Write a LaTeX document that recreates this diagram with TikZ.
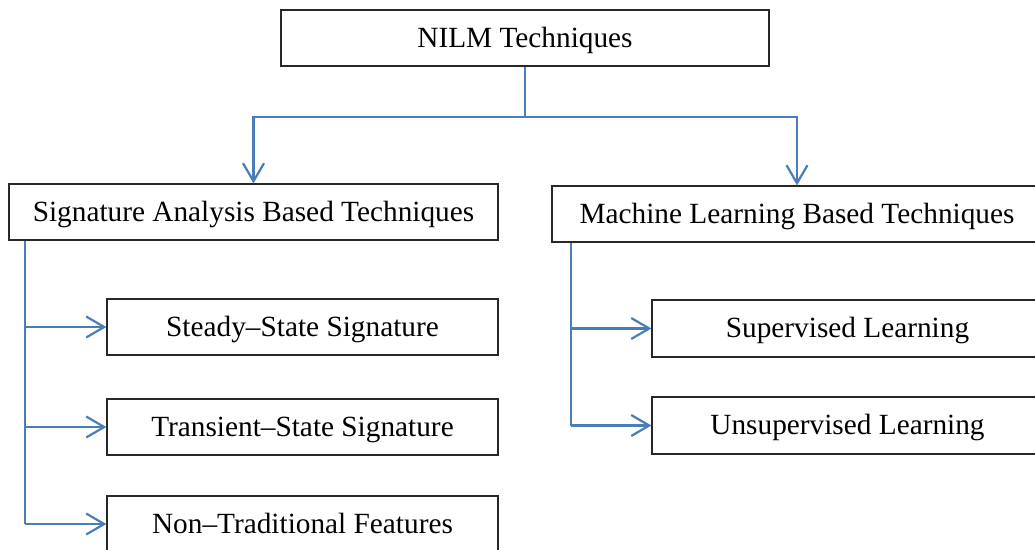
\documentclass[tikz,border=0pt]{standalone}
\usepackage{fontspec}
\setmainfont{Liberation Serif}
\usetikzlibrary{arrows.meta}
\definecolor{lnblue}{RGB}{74,126,187}
\definecolor{bordergray}{RGB}{40,40,40}
\tikzset{
  box/.style={draw=bordergray, line width=1.2pt, fill=white, inner sep=0pt,
    text height=22pt, text depth=4pt,
    font=\fontsize{29.3}{35}\selectfont, text=black, anchor=center},
  link/.style={draw=lnblue, line width=2.5pt},
  arrowlink/.style={draw=lnblue, line width=2.5pt,
    -{Straight Barb[length=18pt,width=21pt,line width=2.2pt]}},
}
\begin{document}
\begin{tikzpicture}[x=1pt,y=-1pt]
\useasboundingbox (0,0) rectangle (1035,549);
\fill[white] (0,0) rectangle (1035,549);

\node[box, minimum width=488pt, minimum height=56pt] (nilm) at (525,38) {NILM Techniques};
\node[box, minimum width=489pt, minimum height=56pt] (sig) at (253.5,212) {Signature Analysis Based Techniques};
\node[box, minimum width=490pt, minimum height=56pt] (ml) at (797,214) {Machine Learning Based Techniques};
\node[box, minimum width=391pt, minimum height=56pt] (st) at (302.5,327) {Steady–State Signature};
\node[box, minimum width=391pt, minimum height=56pt] (tr) at (302.5,427) {Transient–State Signature};
\node[box, minimum width=391pt, minimum height=56pt] (nt) at (302.5,524) {Non–Traditional Features};
\node[box, minimum width=391pt, minimum height=57pt] (sup) at (847.5,328.5) {Supervised Learning};
\node[box, minimum width=391pt, minimum height=57pt] (uns) at (847.5,425.5) {Unsupervised Learning};

\coordinate (mid) at (525,117);
\coordinate (lb) at (25,0);
\coordinate (rb) at (571,0);

\draw[link] (nilm.south) -- (mid);
\draw[arrowlink] (mid) -| (sig.north);
\draw[arrowlink] (mid) -| (ml.north);

\draw[link] (sig.south -| lb) -- (nt.west -| lb);
\draw[arrowlink] (st.west -| lb) -- (st.west);
\draw[arrowlink] (tr.west -| lb) -- (tr.west);
\draw[arrowlink] (nt.west -| lb) -- (nt.west);

\draw[link] (ml.south -| rb) -- (uns.west -| rb);
\draw[arrowlink] (sup.west -| rb) -- (sup.west);
\draw[arrowlink] (uns.west -| rb) -- (uns.west);
\end{tikzpicture}
\end{document}
